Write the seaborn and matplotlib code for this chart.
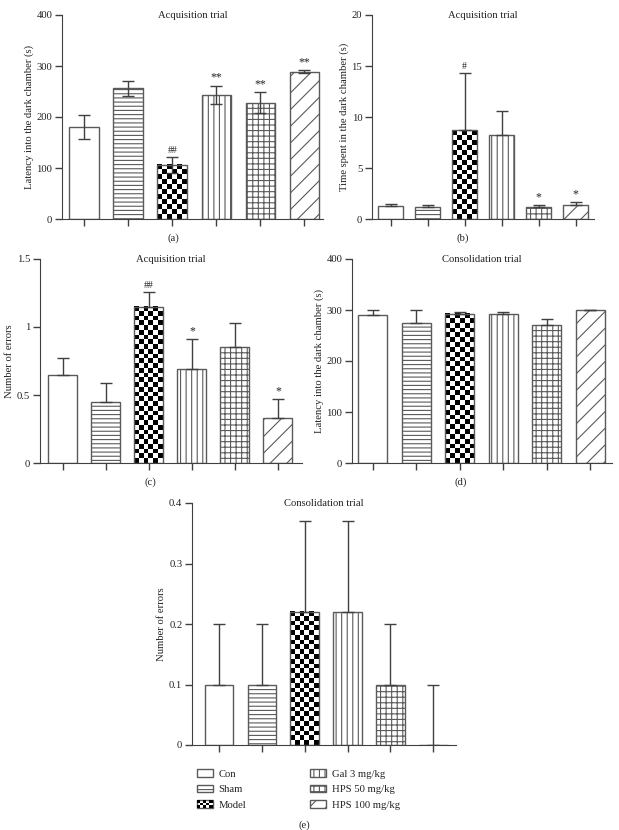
import numpy as np
import pandas as pd
import seaborn as sns
import matplotlib.pyplot as plt
from matplotlib.patches import Patch, Rectangle
from matplotlib.legend_handler import HandlerBase
from matplotlib.ticker import FuncFormatter

groups = ['Con', 'Sham', 'Model', 'Gal 3 mg/kg', 'HPS 50 mg/kg', 'HPS 100 mg/kg']

# (a) acquisition trial, latency into the dark chamber (s)
acq_latency = [180, 256, 106, 243, 228, 289]
acq_latency_err = [24, 14, 15, 18, 21, 3]
acq_latency_marks = ['', '', '##', '**', '**', '**']

# (b) acquisition trial, time spent in the dark chamber (s)
acq_time = [1.3, 1.2, 8.7, 8.2, 1.15, 1.4]
acq_time_err = [0.15, 0.15, 5.6, 2.4, 0.2, 0.23]
acq_time_marks = ['', '', '#', '', '*', '*']

# (c) acquisition trial, number of errors
acq_errors = [0.65, 0.45, 1.15, 0.69, 0.85, 0.33]
acq_errors_err = [0.12, 0.14, 0.11, 0.22, 0.18, 0.14]
acq_errors_marks = ['', '', '##', '*', '', '*']

# (d) consolidation trial, latency (s)
con_latency = [290, 274, 293, 292, 271, 300]
con_latency_err = [10, 26, 4, 5, 12, 0]

# (e) consolidation trial, number of errors
con_errors = [0.1, 0.1, 0.22, 0.22, 0.1, 0.0]
con_errors_err = [0.1, 0.1, 0.15, 0.15, 0.1, 0.1]

hatches = ['', '----', 'checker', '|||', '+++', '//']

EDGE = '#5a5a5a'
SPINE = '#404040'
W, H = 619, 830

sns.set_style('ticks')
plt.rcParams['font.family'] = ['Liberation Serif', 'DejaVu Serif']
plt.rcParams['font.size'] = 7.7
plt.rcParams['hatch.linewidth'] = 0.8
plt.rcParams['axes.edgecolor'] = SPINE
plt.rcParams['text.color'] = '#222222'
plt.rcParams['axes.labelcolor'] = '#222222'
plt.rcParams['xtick.color'] = SPINE
plt.rcParams['ytick.color'] = SPINE
plt.rcParams['ytick.labelcolor'] = '#222222'

fig = plt.figure(figsize=(W / 100, H / 100), dpi=100)


def box(left, top, right, bottom):
    return [left / W, 1 - bottom / H, (right - left) / W, (bottom - top) / H]


def add_checker(ax, bar, cell=4.8):
    # no checkerboard hatch in matplotlib, so paint one inside the bar
    x0, w, h = bar.get_x(), bar.get_width(), bar.get_height()
    p0 = ax.transData.transform((x0, 0))
    p1 = ax.transData.transform((x0 + w, h))
    ncol = max(1, int(round((p1[0] - p0[0]) / cell)))
    nrow = max(1, int(round((p1[1] - p0[1]) / cell)))
    grid = np.add.outer(np.arange(nrow), np.arange(ncol)) % 2
    ax.imshow(grid, cmap='gray', extent=(x0, x0 + w, 0, h), aspect='auto',
              interpolation='nearest', zorder=0.5)
    bar.set_facecolor('none')


def fmt(v, pos):
    return '0' if v == 0 else ('%g' % v)


def panel(rect, values, errs, marks, ylim, yticks, ylabel, title, xlim, both=False):
    ax = fig.add_axes(rect)
    df = pd.DataFrame({'group': groups, 'value': values})
    sns.barplot(data=df, x='group', y='value', order=groups, color='white',
                saturation=1, width=0.67, edgecolor=EDGE, linewidth=1,
                errorbar=None, ax=ax)
    ax.set_xlim(*xlim)
    ax.set_ylim(*ylim)
    x = np.arange(len(groups))
    lower = errs if both else [0] * len(errs)
    ax.errorbar(x, values, yerr=[lower, errs], fmt='none', ecolor=SPINE,
                elinewidth=1, capsize=4.3, capthick=1, zorder=3)
    for bar, h in zip(ax.patches, hatches):
        if h == 'checker':
            add_checker(ax, bar)
        elif h:
            bar.set_hatch(h)
    if marks:
        for xi, v, e, m in zip(x, values, errs, marks):
            if m:
                ax.annotate(m, (xi, v + e), xytext=(0, 1.5), textcoords='offset points',
                            ha='center', va='bottom',
                            fontsize=7 if '#' in m else 8.5)
    ax.set_xlim(*xlim)
    ax.set_ylim(*ylim)
    ax.set_yticks(yticks)
    ax.yaxis.set_major_formatter(FuncFormatter(fmt))
    ax.set_xticks(x)
    ax.set_xticklabels([])
    ax.set_xlabel('')
    ax.set_ylabel(ylabel, labelpad=2)
    ax.tick_params(direction='out', length=5, width=1, pad=2)
    ax.text(0.5, 1.0, title, transform=ax.transAxes, ha='center', va='center')
    sns.despine(ax=ax)
    return ax


panel(box(62, 15, 323, 219), acq_latency, acq_latency_err, acq_latency_marks,
      (0, 400), [0, 100, 200, 300, 400], 'Latency into the dark chamber (s)',
      'Acquisition trial', (-0.5, 5.42), both=True)
panel(box(372, 15, 594, 219), acq_time, acq_time_err, acq_time_marks,
      (0, 20), [0, 5, 10, 15, 20], 'Time spent in the dark chamber (s)',
      'Acquisition trial', (-0.5, 5.5))
panel(box(40, 259, 302, 463), acq_errors, acq_errors_err, acq_errors_marks,
      (0, 1.5), [0, 0.5, 1, 1.5], 'Number of errors',
      'Acquisition trial', (-0.53, 5.56))
panel(box(352, 259, 612, 463), con_latency, con_latency_err, None,
      (0, 400), [0, 100, 200, 300, 400], 'Latency into the dark chamber (s)',
      'Consolidation trial', (-0.48, 5.5))
panel(box(192, 503, 456, 745), con_errors, con_errors_err, None,
      (0, 0.4), [0, 0.1, 0.2, 0.3, 0.4], 'Number of errors',
      'Consolidation trial', (-0.63, 5.53))

for lab, px, py in [('(a)', 173, 238), ('(b)', 463, 238), ('(c)', 150, 482),
                    ('(d)', 461, 482), ('(e)', 304, 825)]:
    fig.text(px / W, 1 - py / H, lab, ha='center', va='center')


class CheckerHandler(HandlerBase):
    def create_artists(self, legend, orig, xd, yd, width, height, fontsize, trans):
        arts = [Rectangle((-xd, -yd), width, height, facecolor='white',
                          edgecolor=EDGE, lw=1, transform=trans)]
        nc, nr = 5, 3
        cw, ch = width / nc, height / nr
        for i in range(nr):
            for j in range(nc):
                if (i + j) % 2 == 0:
                    arts.append(Rectangle((-xd + j * cw, -yd + i * ch), cw, ch,
                                          facecolor='black', edgecolor='none',
                                          transform=trans))
        return arts


handles = []
for g, h in zip(groups, hatches):
    handles.append(Patch(facecolor='white', edgecolor=EDGE, lw=1,
                         hatch=None if h in ('', 'checker') else h, label=g))
fig.legend(handles=handles, labels=groups, ncol=2, loc='upper left',
           bbox_to_anchor=(197 / W, 1 - 769 / H), frameon=False,
           handlelength=1.45, handleheight=0.75, handletextpad=0.55,
           columnspacing=6.0, labelspacing=0.55, borderpad=0, borderaxespad=0,
           handler_map={handles[2]: CheckerHandler()})

fig.savefig('out.png', dpi=100)
